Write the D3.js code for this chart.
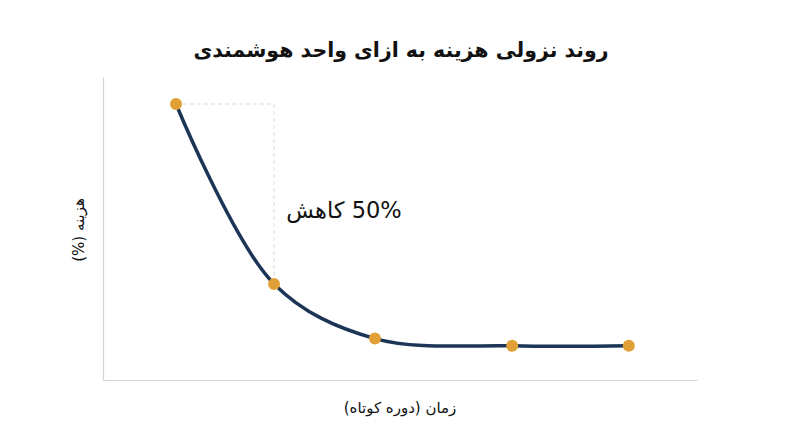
<!DOCTYPE html>
<html lang="fa">
<head>
<meta charset="UTF-8">
<title>chart</title>
<script src="https://d3js.org/d3.v7.min.js"></script>
<style>
  body { margin: 0; background: #fff; }
  text { font-family: "DejaVu Sans", "Noto Sans", sans-serif; }
</style>
</head>
<body>
<script>
// data
var periods = [1, 2, 3.03, 4.43, 5.62];
var costs = [100, 50, 34.8, 32.8, 32.8];
var titleText = "روند نزولی هزینه به ازای واحد هوشمندی";
var xLabel = "زمان (دوره کوتاه)";
var yLabel = "هزینه (%)";
var noteText = "50% کاهش";

var width = 800, height = 447;
var margin = {top: 77, right: 103, bottom: 67, left: 103};

var svg = d3.select("body").append("svg")
  .attr("width", width)
  .attr("height", height);

var x = d3.scaleLinear()
  .domain([0.255, 6.316])
  .range([margin.left, width - margin.right]);

var y = d3.scaleLinear()
  .domain([23.3, 107.5])
  .range([height - margin.bottom, margin.top]);

var pts = periods.map(function(p, i) { return {x: p, y: costs[i]}; });

// axes: plain lines, no ticks
svg.append("g")
  .attr("transform", "translate(0," + y.range()[0] + ")")
  .call(d3.axisBottom(x).ticks(0).tickSize(0))
  .call(function(g) { g.select(".domain").attr("stroke", "#d4d4d4").attr("stroke-width", 1.2); });

svg.append("g")
  .attr("transform", "translate(" + x.range()[0] + ",0)")
  .call(d3.axisLeft(y).ticks(0).tickSize(0))
  .call(function(g) { g.select(".domain").attr("stroke", "#d4d4d4").attr("stroke-width", 1.2); });

// dashed guide from first point across and down to second
svg.append("path")
  .attr("d", "M" + x(pts[0].x) + "," + y(pts[0].y) + "H" + x(pts[1].x) + "V" + y(pts[1].y))
  .attr("fill", "none")
  .attr("stroke", "#d8d8d8")
  .attr("stroke-dasharray", "4,3")
  .attr("stroke-width", 1);

// the curve
var line = d3.line()
  .x(function(d) { return x(d.x); })
  .y(function(d) { return y(d.y); })
  .curve(d3.curveCatmullRom.alpha(0.5));

svg.append("path")
  .datum(pts)
  .attr("d", line)
  .attr("fill", "none")
  .attr("stroke", "#1c3557")
  .attr("stroke-width", 3.5);

svg.selectAll("circle.pt")
  .data(pts)
  .enter().append("circle")
  .attr("class", "pt")
  .attr("cx", function(d) { return x(d.x); })
  .attr("cy", function(d) { return y(d.y); })
  .attr("r", 6)
  .attr("fill", "#e0a035");

// annotation
svg.append("text")
  .attr("x", 344)
  .attr("y", 218)
  .attr("direction", "rtl")
  .attr("text-anchor", "middle")
  .attr("font-size", 22.5)
  .attr("fill", "#111")
  .text(noteText);

// title
svg.append("text")
  .attr("x", 401)
  .attr("y", 57)
  .attr("direction", "rtl")
  .attr("text-anchor", "middle")
  .attr("font-size", 20.5)
  .attr("font-weight", "bold")
  .attr("fill", "#111")
  .text(titleText);

// axis labels
svg.append("text")
  .attr("x", 400)
  .attr("y", 413)
  .attr("direction", "rtl")
  .attr("text-anchor", "middle")
  .attr("font-size", 15)
  .attr("fill", "#111")
  .text(xLabel);

svg.append("text")
  .attr("transform", "translate(84,230) rotate(-90)")
  .attr("direction", "rtl")
  .attr("text-anchor", "middle")
  .attr("font-size", 15)
  .attr("fill", "#111")
  .text(yLabel);
</script>
</body>
</html>
